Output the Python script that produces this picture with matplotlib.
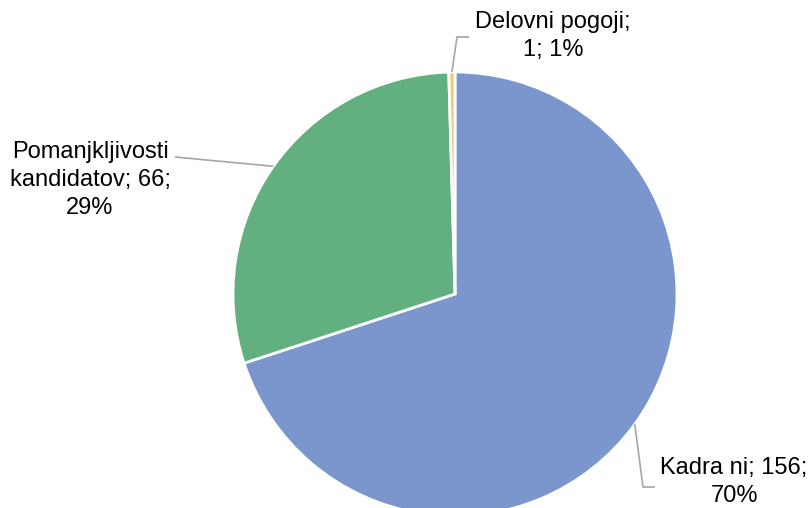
import numpy as np
import matplotlib
matplotlib.use("Agg")
import matplotlib.pyplot as plt

labels = ["Kadra ni", "Pomanjkljivosti\nkandidatov", "Delovni pogoji"]
values = [156, 66, 1]
percents = ["70%", "29%", "1%"]
colors = ["#7a96cc", "#62b07f", "#f5c77e"]

plt.rcParams["font.family"] = ["Liberation Sans", "DejaVu Sans"]

W, H = 811, 508
fig = plt.figure(figsize=(W / 100, H / 100), dpi=100)
ax = fig.add_axes([0, 0, 1, 1])

cx, cy, r = 455, H - 294, 222
wedges, _ = ax.pie(values, colors=colors, startangle=90, counterclock=False,
                   center=(cx, cy), radius=r, frame=True,
                   wedgeprops=dict(edgecolor="white", linewidth=2))
ax.set_xlim(0, W)
ax.set_ylim(0, H)
ax.set_aspect("equal")
ax.axis("off")

# label text: (text centre), leader line path from wedge edge
texts = [
    ("Kadra ni; 156;\n70%", (734, H - 482), [(643, H - 487), (655, H - 487)]),
    ("Pomanjkljivosti\nkandidatov; 66;\n29%", (90, H - 180), [(175, H - 157)]),
    ("Delovni pogoji;\n1; 1%", (553, H - 36), [(457, H - 37), (469, H - 37)]),
]
for w, (txt, pos, path) in zip(wedges, texts):
    ang = np.deg2rad((w.theta1 + w.theta2) / 2)
    start = (cx + r * np.cos(ang), cy + r * np.sin(ang))
    pts = [start] + path
    ax.plot([p[0] for p in pts], [p[1] for p in pts], color="#a6a6a6",
            lw=1.2, solid_capstyle="butt")
    ax.text(pos[0], pos[1], txt, ha="center", va="center", fontsize=17,
            color="#000000", linespacing=1.35)

fig.savefig("out.png", dpi=100)
